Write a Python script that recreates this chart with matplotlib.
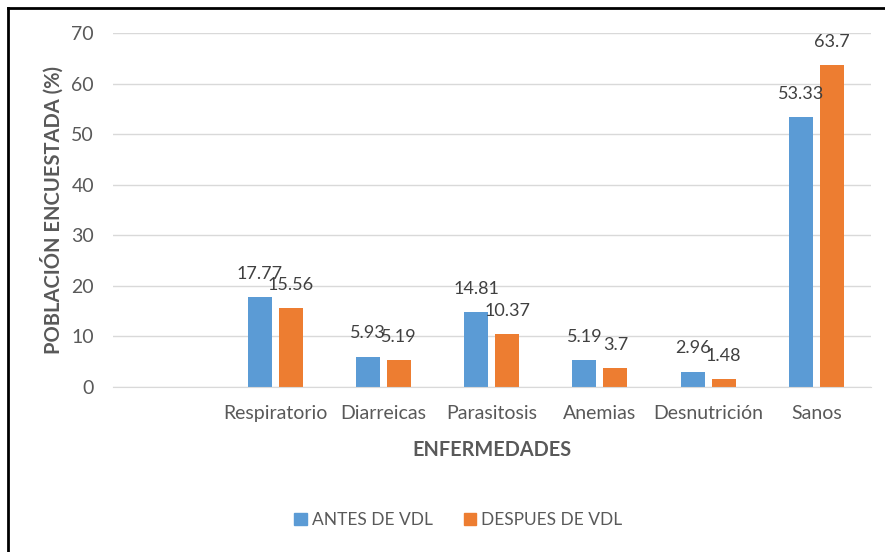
import numpy as np
import matplotlib.pyplot as plt
from matplotlib.lines import Line2D
from matplotlib.patches import Patch

plt.rcParams['font.family'] = ['Lato', 'DejaVu Sans']

categorias = ["", "Respiratorio", "Diarreicas", "Parasitosis", "Anemias", "Desnutrición", "Sanos"]
antes = [np.nan, 17.77, 5.93, 14.81, 5.19, 2.96, 53.33]
despues = [np.nan, 15.56, 5.19, 10.37, 3.7, 1.48, 63.7]
series = ["ANTES DE VDL", "DESPUES DE VDL"]

azul = '#5B9BD5'
naranja = '#ED7D31'
gris = '#595959'

fig = plt.figure(figsize=(8.85, 5.52), dpi=100)
ax = fig.add_axes([0.1273, 0.2995, 0.8565, 0.6402])

x = np.arange(len(categorias))
width = 0.2216
off = 0.143
b1 = ax.bar(x - off, antes, width, color=azul)
b2 = ax.bar(x + off, despues, width, color=naranja)

def etiquetas(rects, vals):
    for r, v in zip(rects, vals):
        if np.isnan(v):
            continue
        ax.annotate('%g' % v, (r.get_x() + r.get_width() / 2, v),
                    xytext=(0, 11), textcoords='offset points',
                    ha='center', va='bottom', fontsize=13, color='#404040')

etiquetas(b1, antes)
etiquetas(b2, despues)

ax.set_xlim(-0.5, len(categorias) - 0.5)
ax.set_ylim(0, 70)
ax.set_yticks(range(0, 71, 10))
ax.set_xticks(x)
ax.set_xticklabels(categorias)
ax.tick_params(axis='both', length=0, labelsize=14, labelcolor=gris)
ax.tick_params(axis='x', pad=13)
ax.tick_params(axis='y', pad=13.5)
ax.grid(axis='y', color='#d9d9d9', linewidth=1)
ax.set_axisbelow(True)
for s in ['top', 'right', 'left']:
    ax.spines[s].set_visible(False)
ax.spines['bottom'].set_color('#d9d9d9')

ax.set_xlabel('ENFERMEDADES', fontsize=14.3, fontweight='bold', color=gris, labelpad=13)
ax.set_ylabel('POBLACIÓN ENCUESTADA (%)', fontsize=14.5, fontweight='bold', color=gris, labelpad=5.5)

handles = [Patch(color=azul), Patch(color=naranja)]
fig.legend(handles, series, loc='center', bbox_to_anchor=(0.518, 0.058), ncol=2,
           frameon=False, fontsize=12.5, labelcolor=gris, handlelength=0.7,
           handleheight=0.7, handletextpad=0.3, columnspacing=1.8)

# borde del recuadro (recortado)
fig.add_artist(Line2D([8 / 885, 8 / 885], [0, 1 - 8 / 552], color='black', lw=2, transform=fig.transFigure))
fig.add_artist(Line2D([8 / 885, 1], [1 - 8 / 552, 1 - 8 / 552], color='black', lw=2, transform=fig.transFigure))

fig.savefig('out.png', dpi=100)
